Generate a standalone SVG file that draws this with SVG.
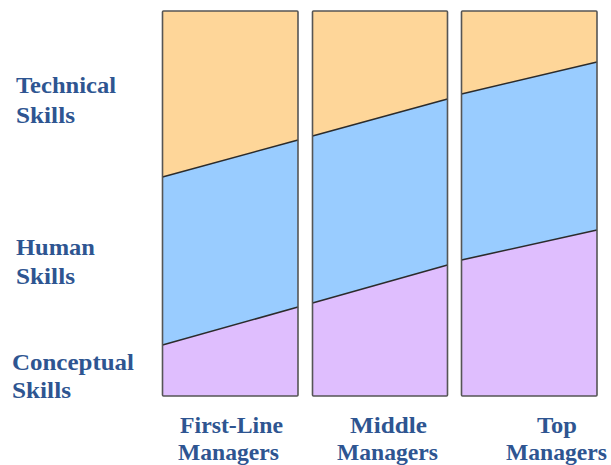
<svg xmlns="http://www.w3.org/2000/svg" width="611" height="465" viewBox="0 0 611 465">
  <style>
    .tech { fill: #FED699; }
    .human { fill: #99CCFF; }
    .concept { fill: #DFBEFE; }
    .div { stroke: #2b2b2b; stroke-width: 1.6; fill: none; }
    .frame { fill: none; stroke: #555555; stroke-width: 1.6; }
    .lbl { font-family: "Liberation Serif", "Times New Roman", serif; font-weight: bold; font-size: 23px; fill: #2E5591; }
  </style>
  <rect width="611" height="465" fill="#ffffff"/>
  <g id="col-first-line">
    <polygon class="tech" points="162.5,11 298,11 298,140 162.5,177"/>
    <polygon class="human" points="162.5,177 298,140 298,307 162.5,345"/>
    <polygon class="concept" points="162.5,345 298,307 298,396 162.5,396"/>
    <line class="div" x1="162.5" y1="177" x2="298" y2="140"/>
    <line class="div" x1="162.5" y1="345" x2="298" y2="307"/>
    <rect class="frame" x="162.5" y="11" width="135.5" height="385" rx="1"/>
  </g>
  <g id="col-middle">
    <polygon class="tech" points="312.5,11 447.5,11 447.5,99 312.5,136"/>
    <polygon class="human" points="312.5,136 447.5,99 447.5,265 312.5,303"/>
    <polygon class="concept" points="312.5,303 447.5,265 447.5,396 312.5,396"/>
    <line class="div" x1="312.5" y1="136" x2="447.5" y2="99"/>
    <line class="div" x1="312.5" y1="303" x2="447.5" y2="265"/>
    <rect class="frame" x="312.5" y="11" width="135" height="385" rx="1"/>
  </g>
  <g id="col-top">
    <polygon class="tech" points="461.5,11 597,11 597,62 461.5,94"/>
    <polygon class="human" points="461.5,94 597,62 597,230 461.5,260"/>
    <polygon class="concept" points="461.5,260 597,230 597,396 461.5,396"/>
    <line class="div" x1="461.5" y1="94" x2="597" y2="62"/>
    <line class="div" x1="461.5" y1="260" x2="597" y2="230"/>
    <rect class="frame" x="461.5" y="11" width="135.5" height="385" rx="1"/>
  </g>
  <g id="label-technical">
    <text class="lbl" x="16" y="93" textLength="100" lengthAdjust="spacingAndGlyphs">Technical</text>
    <text class="lbl" x="16" y="123" textLength="59" lengthAdjust="spacingAndGlyphs">Skills</text>
  </g>
  <g id="label-human">
    <text class="lbl" x="16" y="255" textLength="79" lengthAdjust="spacingAndGlyphs">Human</text>
    <text class="lbl" x="16" y="284" textLength="59" lengthAdjust="spacingAndGlyphs">Skills</text>
  </g>
  <g id="label-conceptual">
    <text class="lbl" x="12" y="370" textLength="122" lengthAdjust="spacingAndGlyphs">Conceptual</text>
    <text class="lbl" x="12" y="398" textLength="59" lengthAdjust="spacingAndGlyphs">Skills</text>
  </g>
  <g id="label-first-line">
    <text class="lbl" x="180" y="433" textLength="103" lengthAdjust="spacingAndGlyphs">First-Line</text>
    <text class="lbl" x="178" y="460" textLength="101" lengthAdjust="spacingAndGlyphs">Managers</text>
  </g>
  <g id="label-middle">
    <text class="lbl" x="350" y="433" textLength="77" lengthAdjust="spacingAndGlyphs">Middle</text>
    <text class="lbl" x="337" y="460" textLength="101" lengthAdjust="spacingAndGlyphs">Managers</text>
  </g>
  <g id="label-top">
    <text class="lbl" x="537" y="433" textLength="40" lengthAdjust="spacingAndGlyphs">Top</text>
    <text class="lbl" x="506" y="460" textLength="101" lengthAdjust="spacingAndGlyphs">Managers</text>
  </g>
</svg>
